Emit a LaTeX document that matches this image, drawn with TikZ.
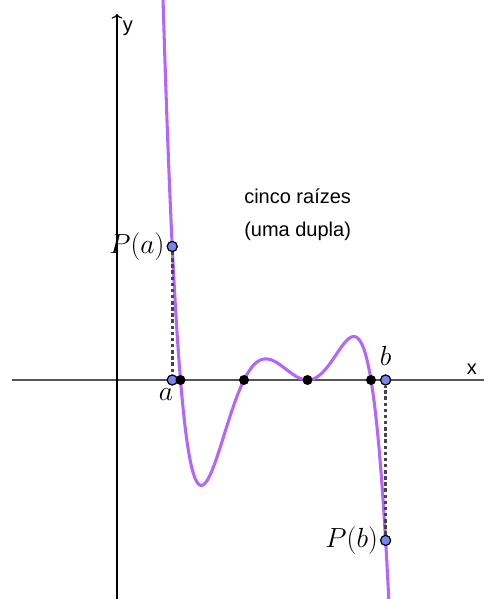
\documentclass[tikz,border=0pt]{standalone}
\usepackage{fontspec}
\setsansfont{Liberation Sans}
\usepackage{tikz}
\usetikzlibrary{arrows,arrows.meta,positioning,calc}
\definecolor{curvepurple}{RGB}{178,102,255}
\definecolor{ptblue}{RGB}{120,132,240}
\definecolor{axisgray}{RGB}{85,85,85}
\definecolor{dotgray}{RGB}{70,70,70}
\tikzset{
    rootdot/.style={circle, fill=black, inner sep=0pt, minimum size=7.5pt},
    enddot/.style={circle, fill=ptblue, draw=black, line width=0.8pt, inner sep=0pt, minimum size=7.5pt},
    marklabel/.style={font=\fontsize{19.5}{22}\selectfont, inner sep=1pt},
    sanslabel/.style={font=\sffamily\fontsize{15}{25}\selectfont, inner sep=0pt},
    declare function={P(\x)=-(\x-1)*(\x-2)*(\x-3)*(\x-3)*(\x-4);}
}

\begin{document}
\begin{tikzpicture}[x=47.625pt, y=48pt]
    \useasboundingbox (-1.8425,-3.4219) rectangle (5.7795,5.9375);

    % Axes
    \draw[axisgray, line width=1.5pt] (-1.6535,0) -- (5.9,0);
    \draw[black, line width=0.9pt, -{To[length=3.5pt,width=8pt]}] (0,-3.5) -- (0,5.72);
    \node[sanslabel] (ylab) at (0.17,5.50) {y};
    \node[sanslabel] (xlab) at (5.59,0.17) {x};

    % Curve of the polynomial
    \begin{scope}
        \clip (-1.8425,-3.4219) rectangle (5.7795,5.9375);
        \draw[curvepurple, line width=2.3pt, smooth, samples=300, domain=0.70:4.31]
            plot (\x,{P(\x)});
    \end{scope}

    % End points a, b and their values
    \node[enddot] (a) at (0.87,0) {};
    \node[enddot] (b) at (4.23,0) {};
    \node[enddot] (Pa) at (0.87,{P(0.87)}) {};
    \node[enddot] (Pb) at (4.23,{P(4.23)}) {};
    \draw[dotgray, line width=2.6pt, dotted] (Pa) -- (a);
    \draw[dotgray, line width=2.6pt, dotted] (Pb) -- (b);
    \node[enddot] at (a) {};
    \node[enddot] at (b) {};
    \node[enddot] at (Pa) {};
    \node[enddot] at (Pb) {};

    % Roots
    \foreach \r in {1,2,3,4}
        \node[rootdot] (r\r) at (\r,0) {};

    % Labels
    \node[marklabel, left=0.5pt of Pa] (Palab) {$P(a)$};
    \node[marklabel, left=0.5pt of Pb] (Pblab) {$P(b)$};
    \node[marklabel] (alab) at (0.772,-0.22) {$a$};
    \node[marklabel] (blab) at (4.23,0.37) {$b$};
    \node[sanslabel, align=left, anchor=west] (note) at (2.0,2.585)
        {cinco raízes\\(uma dupla)};
\end{tikzpicture}
\end{document}
